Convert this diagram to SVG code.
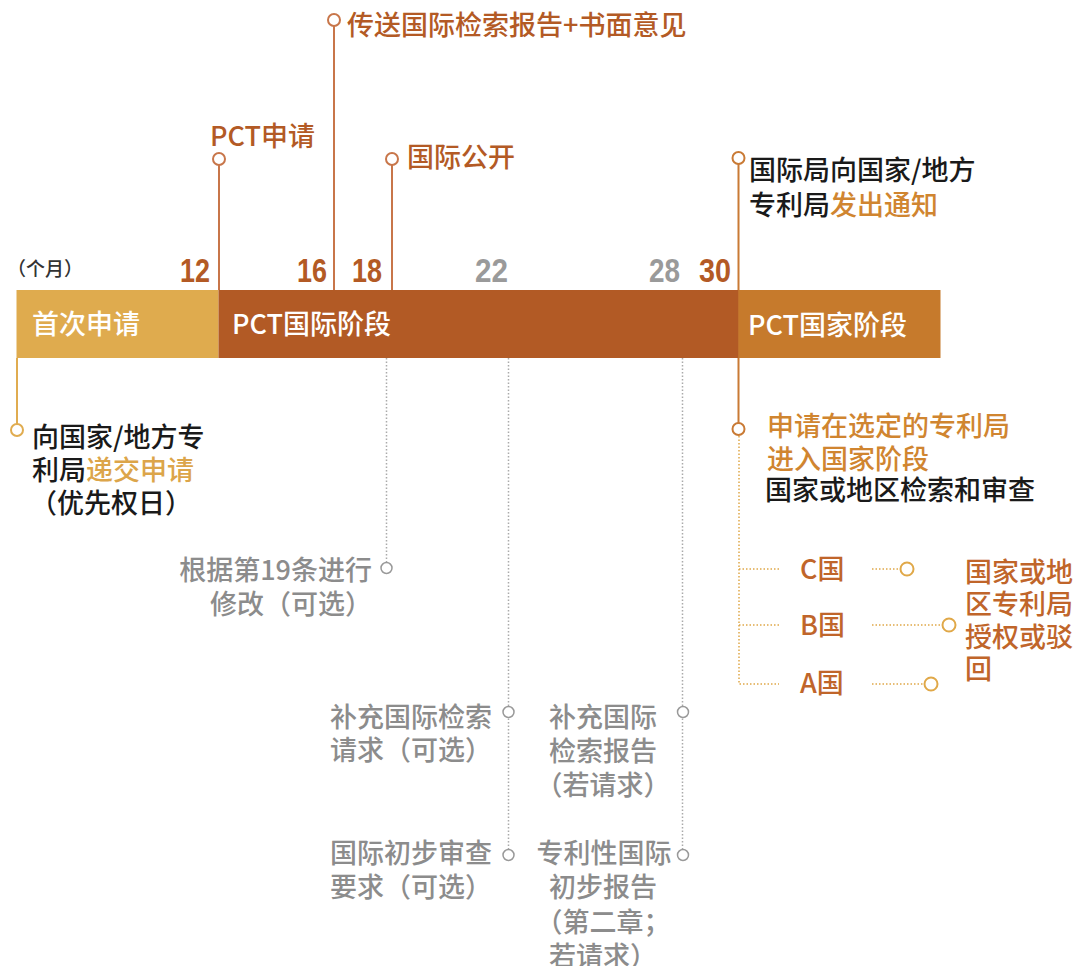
<svg xmlns="http://www.w3.org/2000/svg" width="1077" height="966" viewBox="0 0 1077 966">
<style>
text{font-family:"Noto Sans CJK SC","Noto Sans",sans-serif;font-size:27px;font-weight:500}
.br{fill:#B35A25}
.or{fill:#D08530}
.gd{fill:#DCA54A}
.bk{fill:#1a1a1a}
.gy{fill:#8c8c8c}
.wh{fill:#ffffff}
.cn{fill:#C0652A}
.num{font-family:"Liberation Sans Narrow","Liberation Sans",sans-serif;font-weight:bold;font-size:33px}
.stem{stroke:#C8764A;stroke-width:2;fill:none}
.stem30{stroke:#C97A35;stroke-width:2;fill:none}
.stemL{stroke:#E0AC50;stroke-width:2;fill:none}
.dotg{stroke:#aaaaaa;stroke-width:1.5;stroke-dasharray:1.5 2;fill:none}
.doto{stroke:#E0A848;stroke-width:1.5;stroke-dasharray:1.5 2;fill:none}
.cs{fill:#fff;stroke:#C8764A;stroke-width:2}
.c30{fill:#fff;stroke:#C97A35;stroke-width:2}
.cL{fill:#fff;stroke:#E0AC50;stroke-width:2}
.cg{fill:#fff;stroke:#999999;stroke-width:1.5}
.co{fill:#fff;stroke:#E0A848;stroke-width:2}
</style>

<g id="connectors">
  <line class="stem" x1="219" y1="165" x2="219" y2="290"/>
  <line class="stem" x1="334" y1="26" x2="334" y2="290"/>
  <line class="stem" x1="392" y1="165" x2="392" y2="290"/>
  <line class="stem30" x1="738.5" y1="164" x2="738.5" y2="423"/>
  <line class="stemL" x1="17" y1="358" x2="17" y2="424"/>
  <line class="dotg" x1="386.5" y1="358" x2="386.5" y2="562"/>
  <line class="dotg" x1="508.5" y1="358" x2="508.5" y2="849"/>
  <line class="dotg" x1="682.5" y1="358" x2="682.5" y2="849"/>
  <polyline class="doto" points="739,436 739,684 779,684"/>
  <line class="doto" x1="739" y1="569" x2="779" y2="569"/>
  <line class="doto" x1="739" y1="625" x2="779" y2="625"/>
  <line class="doto" x1="872" y1="569" x2="900" y2="569"/>
  <line class="doto" x1="872" y1="625" x2="942" y2="625"/>
  <line class="doto" x1="872" y1="684" x2="924" y2="684"/>
</g>

<g id="timeline-bar">
  <g id="phase-first">
    <rect x="16.5" y="290" width="202" height="68" fill="#DFAB4E"/>
    <text class="wh" x="32" y="334">首次申请</text>
  </g>
  <g id="phase-international">
    <rect x="218.5" y="290" width="520" height="68" fill="#B25A25"/>
    <text class="wh" x="232" y="334">PCT国际阶段</text>
  </g>
  <g id="phase-national">
    <rect x="738.5" y="290" width="202" height="68" fill="#C67A2C"/>
    <text class="wh" x="748" y="335">PCT国家阶段</text>
  </g>
</g>

<g id="months">
  <text x="7" y="276" style="font-size:19px" fill="#333">（个月）</text>
  <text class="num br" x="180" y="282" textLength="30" lengthAdjust="spacingAndGlyphs">12</text>
  <text class="num br" x="297" y="282" textLength="30" lengthAdjust="spacingAndGlyphs">16</text>
  <text class="num br" x="352" y="282" textLength="30" lengthAdjust="spacingAndGlyphs">18</text>
  <text class="num" fill="#9a9a9a" x="475" y="282" textLength="33" lengthAdjust="spacingAndGlyphs">22</text>
  <text class="num" fill="#9a9a9a" x="649" y="282" textLength="31" lengthAdjust="spacingAndGlyphs">28</text>
  <text class="num br" x="699" y="282" textLength="32" lengthAdjust="spacingAndGlyphs">30</text>
</g>

<g id="node-pct-filing">
  <circle class="cs" cx="219" cy="159" r="6"/>
  <text class="br" x="210" y="146">PCT申请</text>
</g>
<g id="node-search-report">
  <circle class="cs" cx="334" cy="20" r="6"/>
  <text class="br" x="347" y="35">传送国际检索报告+书面意见</text>
</g>
<g id="node-publication">
  <circle class="cs" cx="392" cy="159" r="6"/>
  <text class="br" x="407" y="167">国际公开</text>
</g>
<g id="node-notify">
  <circle class="c30" cx="738.5" cy="158" r="6"/>
  <text class="bk" x="749" y="180">国际局向国家/地方</text>
  <text class="bk" x="749" y="215">专利局<tspan class="or">发出通知</tspan></text>
</g>
<g id="node-first-filing">
  <circle class="cL" cx="17" cy="430" r="6"/>
  <text class="bk" x="32" y="447">向国家/地方专</text>
  <text class="bk" x="32" y="480">利局<tspan class="gd">递交申请</tspan></text>
  <text class="bk" x="30" y="513">（优先权日）</text>
</g>
<g id="node-national-entry">
  <circle class="c30" cx="738.5" cy="429" r="6"/>
  <text class="or" x="767" y="436">申请在选定的专利局</text>
  <text class="or" x="767" y="469">进入国家阶段</text>
  <text class="bk" x="765" y="500">国家或地区检索和审查</text>
</g>
<g id="node-art19">
  <circle class="cg" cx="386.5" cy="568" r="5.5"/>
  <text class="gy" x="372" y="580" text-anchor="end">根据第19条进行</text>
  <text class="gy" x="372" y="614" text-anchor="end">修改（可选）</text>
</g>
<g id="node-sis-request">
  <circle class="cg" cx="508.5" cy="712" r="5.5"/>
  <text class="gy" x="330" y="727">补充国际检索</text>
  <text class="gy" x="330" y="760">请求（可选）</text>
</g>
<g id="node-ipe-demand">
  <circle class="cg" cx="508.5" cy="855" r="5.5"/>
  <text class="gy" x="330" y="863">国际初步审查</text>
  <text class="gy" x="330" y="897">要求（可选）</text>
</g>
<g id="node-sis-report">
  <circle class="cg" cx="683" cy="712" r="5.5"/>
  <text class="gy" x="603" y="727" text-anchor="middle">补充国际</text>
  <text class="gy" x="603" y="761" text-anchor="middle">检索报告</text>
  <text class="gy" x="603" y="795" text-anchor="middle">（若请求）</text>
</g>
<g id="node-iprp">
  <circle class="cg" cx="683" cy="855" r="5.5"/>
  <text class="gy" x="604" y="863" text-anchor="middle">专利性国际</text>
  <text class="gy" x="603" y="897" text-anchor="middle">初步报告</text>
  <text class="gy" x="603" y="932" text-anchor="middle">（第二章；</text>
  <text class="gy" x="603" y="966" text-anchor="middle">若请求）</text>
</g>
<g id="node-countries">
  <text class="cn" x="800" y="579">C国</text>
  <text class="cn" x="800" y="635">B国</text>
  <text class="cn" x="800" y="693">A国</text>
  <circle class="co" cx="907" cy="569" r="6.5"/>
  <circle class="co" cx="949" cy="625" r="6.5"/>
  <circle class="co" cx="931" cy="684" r="6.5"/>
</g>
<g id="node-grant">
  <text class="cn" x="965" y="582">国家或地</text>
  <text class="cn" x="965" y="614">区专利局</text>
  <text class="cn" x="965" y="647">授权或驳</text>
  <text class="cn" x="965" y="679">回</text>
</g>
</svg>
